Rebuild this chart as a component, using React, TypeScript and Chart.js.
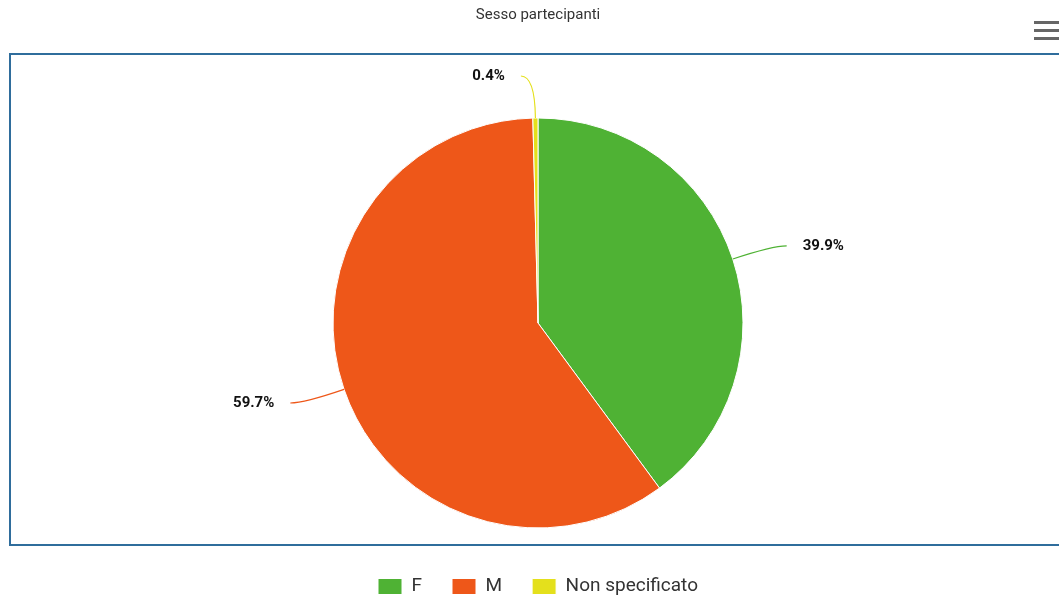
import React, { useEffect, useRef } from "react";
import { Chart, registerables } from "chart.js";

Chart.register(...registerables);

const chartTitle = "Sesso partecipanti";
const categories = ["F", "M", "Non specificato"];
const percentages = [39.9, 59.7, 0.4];
const sliceColors = ["#4fb234", "#ee5719", "#e4e01c"];

const FONT = "Roboto, 'Noto Sans', sans-serif";

const framePlugin = {
  id: "frame",
  beforeDraw(chart: any) {
    const { ctx, width } = chart;
    ctx.save();
    ctx.fillStyle = "#ffffff";
    ctx.fillRect(0, 0, width, chart.height);
    ctx.strokeStyle = "#2f6d9c";
    ctx.lineWidth = 2;
    ctx.strokeRect(10, 54, width + 20, 491);
    // menu icon
    ctx.fillStyle = "#666666";
    for (let i = 0; i < 3; i++) {
      ctx.fillRect(1034, 21 + i * 8, 26, 3);
    }
    ctx.restore();
  },
};

const labelPlugin = {
  id: "pieLabels",
  afterDatasetsDraw(chart: any) {
    const { ctx } = chart;
    const meta = chart.getDatasetMeta(0);
    const dist = 42;
    ctx.save();
    meta.data.forEach((arc: any, i: number) => {
      const { x: cx, y: cy, startAngle, endAngle, outerRadius: r } = arc.getProps(
        ["x", "y", "startAngle", "endAngle", "outerRadius"],
        true
      );
      const a = (startAngle + endAngle) / 2;
      const cos = Math.cos(a);
      const sin = Math.sin(a);
      const p0x = cx + r * cos;
      const p0y = cy + r * sin;
      const R = r + dist;
      const ly = cy + R * sin;
      const dy = ly - cy;
      const dx = Math.sqrt(Math.max(R * R - dy * dy, 0));
      const right = cos > 0.001;
      const sign = right ? 1 : -1;
      const ex = cx + sign * (dx + 14);
      const ctrlX = cx + R * cos;
      const ctrlY = ly;
      ctx.strokeStyle = sliceColors[i];
      ctx.lineWidth = 1.2;
      ctx.beginPath();
      ctx.moveTo(p0x, p0y);
      ctx.quadraticCurveTo(ctrlX, ctrlY, ex, ly);
      ctx.stroke();
      const text = percentages[i].toFixed(1) + "%";
      ctx.font = `bold 15px ${FONT}`;
      ctx.textBaseline = "middle";
      ctx.textAlign = right ? "left" : "right";
      const tx = ex + sign * 16;
      ctx.lineWidth = 3;
      ctx.strokeStyle = "#ffffff";
      ctx.lineJoin = "round";
      ctx.strokeText(text, tx, ly);
      ctx.fillStyle = "#111111";
      ctx.fillText(text, tx, ly);
    });
    ctx.restore();
  },
};

export default function App() {
  const ref = useRef<HTMLCanvasElement | null>(null);
  useEffect(() => {
    const prev = document.body.style.margin;
    document.body.style.margin = "0";
    const chart = new Chart(ref.current as HTMLCanvasElement, {
      type: "pie",
      data: {
        labels: categories,
        datasets: [
          {
            data: percentages,
            backgroundColor: sliceColors,
            borderColor: "#ffffff",
            borderWidth: 1,
            radius: 205,
          } as any,
        ],
      },
      options: {
        animation: false,
        responsive: false,
        maintainAspectRatio: false,
        layout: { padding: { left: 17, right: 0, top: 0, bottom: -7 } },
        plugins: {
          title: {
            display: true,
            text: chartTitle,
            color: "#333333",
            font: { family: FONT, size: 15, weight: "normal" },
            padding: { top: 6, bottom: 75 },
          },
          legend: {
            position: "bottom",
            labels: {
              boxWidth: 24,
              boxHeight: 16,
              padding: 30,
              color: "#333333",
              font: { family: FONT, size: 19 },
            },
          },
          tooltip: { enabled: false },
        },
      } as any,
      plugins: [framePlugin, labelPlugin],
    });
    return () => {
      chart.destroy();
      document.body.style.margin = prev;
    };
  }, []);
  return (
    <div style={{ position: "absolute", left: 0, top: 0, width: 1059, height: 599 }}>
      <canvas ref={ref} width={1059} height={599} />
    </div>
  );
}
